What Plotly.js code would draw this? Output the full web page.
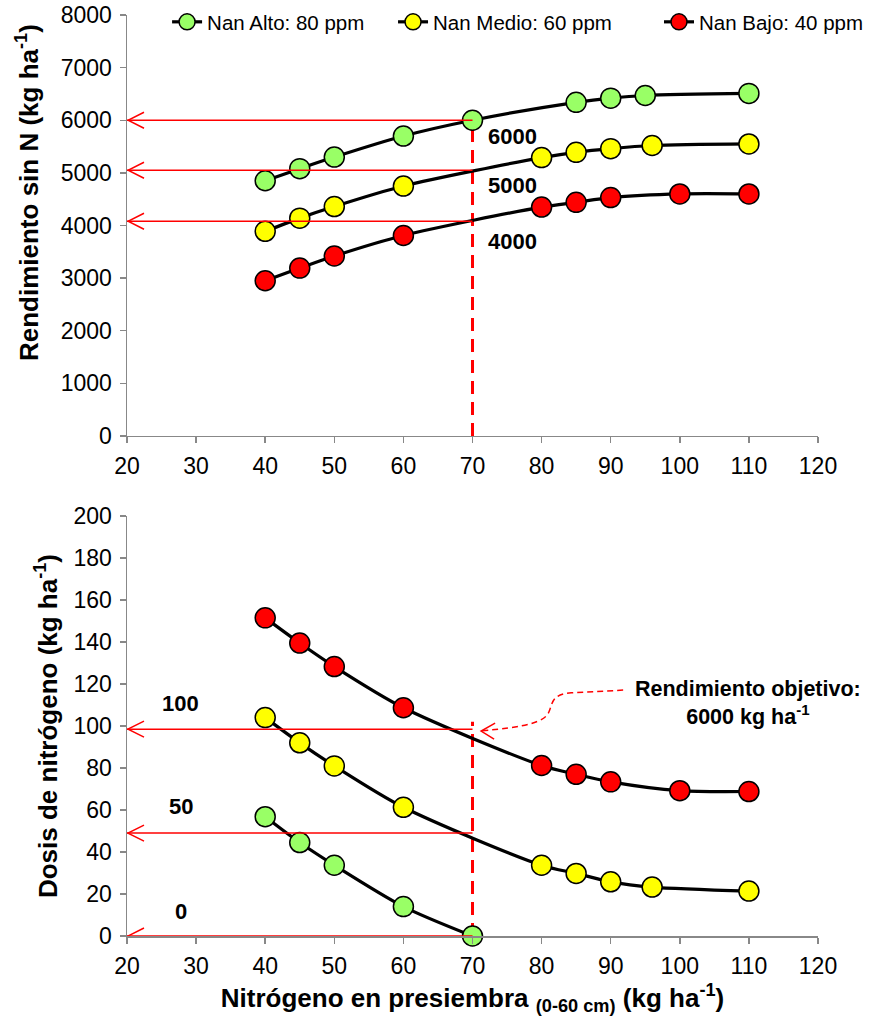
<!DOCTYPE html>
<html>
<head>
<meta charset="utf-8">
<script src="https://cdn.plot.ly/plotly-3.0.1.min.js"></script>
<style>html,body{margin:0;padding:0;background:#fff;}#chart{width:870px;height:1022px;}</style>
</head>
<body>
<div id="chart"></div>
<script>
// ---- Data ----
const seriesNames = ['Nan Alto: 80 ppm', 'Nan Medio: 60 ppm', 'Nan Bajo: 40 ppm'];
const seriesColors = ['#99FF66', '#FFFF00', '#FF0000'];

const xAlto  = [40, 45, 50, 60, 70, 85, 90, 95, 110];
const rendAlto = [4850, 5080, 5300, 5700, 6000, 6340, 6420, 6470, 6510];
const xMedio = [40, 45, 50, 60, 80, 85, 90, 96, 110];
const rendMedio = [3890, 4140, 4360, 4750, 5290, 5390, 5460, 5520, 5550];
const xBajo  = [40, 45, 50, 60, 80, 85, 90, 100, 110];
const rendBajo = [2950, 3190, 3420, 3810, 4350, 4440, 4530, 4600, 4600];

const xDosisAlto = [40, 45, 50, 60, 70];
const dosisAlto  = [56.8, 44.5, 33.7, 14, 0];
const dosisMedio = [104, 92, 81, 61.3, 33.7, 29.8, 25.8, 23.3, 21.4];
const dosisBajo  = [151.5, 139.5, 128.3, 108.7, 81.2, 77, 73.4, 69.2, 68.8];

const nTarget = 70;
const rendRefs = [6000, 5050, 4080];
const rendRefLabels = ['6000', '5000', '4000'];
const dosisRefs = [98.5, 49, 0];
const dosisRefLabels = ['100', '50', '0'];
const xTicks = [20, 30, 40, 50, 60, 70, 80, 90, 100, 110, 120];

// ---- Traces ----
const legendIds = ['legend', 'legend2', 'legend3'];
function tr(x, y, i, yaxis, showlegend) {
  return {
    x: x, y: y, type: 'scatter', mode: 'lines+markers', name: seriesNames[i],
    xaxis: yaxis === 'y' ? 'x' : 'x2', yaxis: yaxis, showlegend: showlegend,
    legend: legendIds[i],
    cliponaxis: false,
    line: {color: '#000', width: 3.2, shape: 'spline', smoothing: 0.8},
    marker: {color: seriesColors[i], size: 20, line: {color: '#000', width: 1.5}}
  };
}
const data = [
  tr(xAlto, rendAlto, 0, 'y', true),
  tr(xMedio, rendMedio, 1, 'y', true),
  tr(xBajo, rendBajo, 2, 'y', true),
  tr(xBajo, dosisBajo, 2, 'y2', false),
  tr(xMedio, dosisMedio, 1, 'y2', false),
  tr(xDosisAlto, dosisAlto, 0, 'y2', false)
];

// ---- Shapes ----
const RED = '#FF0000';
const shapes = [];
function arrows(xr, yr, vals) {
  vals.forEach(v => {
    shapes.push({type: 'line', xref: xr, yref: yr, x0: nTarget, x1: 20, y0: v, y1: v,
      line: {color: RED, width: 1.5}, layer: 'above'});
    shapes.push({type: 'path', xref: xr, yref: yr, xsizemode: 'pixel', ysizemode: 'pixel',
      xanchor: 20, yanchor: v, path: 'M17,8 L1,0 L17,-8',
      line: {color: RED, width: 1.5}, layer: 'above'});
  });
}
shapes.push({type: 'line', xref: 'x', yref: 'y', x0: nTarget, x1: nTarget, y0: 0, y1: rendRefs[0],
  line: {color: RED, width: 3, dash: '13px,8px'}, layer: 'below'});
shapes.push({type: 'line', xref: 'x2', yref: 'y2', x0: nTarget, x1: nTarget, y0: 0, y1: 102,
  line: {color: RED, width: 3, dash: '13px,8px'}, layer: 'below'});
arrows('x', 'y', rendRefs);
arrows('x2', 'y2', dosisRefs);
const tipX = nTarget + 1.1, tipY = dosisRefs[0] - 0.9;
shapes.push({type: 'path', xref: 'x2', yref: 'y2',
  path: 'M 91.8,117.1 L 84.3,115.8 C 81.5,115.3 81.6,111 81.1,107 C 80.5,101.5 77.5,99.6 ' + tipX + ',' + tipY,
  line: {color: RED, width: 1.5, dash: '6px,4px'}});
shapes.push({type: 'path', xref: 'x2', yref: 'y2', xsizemode: 'pixel', ysizemode: 'pixel',
  xanchor: tipX, yanchor: tipY, path: 'M15,8 L1,0 L14,-8',
  line: {color: RED, width: 1.5}});

// ---- Annotations ----
const annotations = [];
const boldFont = {family: 'Liberation Sans, Arial, sans-serif', size: 22, color: '#000'};
const rendLabelY = [5690, 4760, 3700];
rendRefLabels.forEach((t, i) => {
  annotations.push({x: 75.8, y: rendLabelY[i], xref: 'x', yref: 'y', text: '<b>' + t + '</b>', showarrow: false, font: boldFont});
});
const dosisLabelY = [110.5, 61.6, 11.6];
dosisRefLabels.forEach((t, i) => {
  annotations.push({x: 27.8, y: dosisLabelY[i], xref: 'x2', yref: 'y2', text: '<b>' + t + '</b>', showarrow: false, font: boldFont});
});
annotations.push({x: 109.9, y: 111, xref: 'x2', yref: 'y2', showarrow: false, align: 'center',
  text: '<b>Rendimiento objetivo:<br>6000 kg ha<sup>-1</sup></b>',
  font: {family: 'Liberation Sans, Arial, sans-serif', size: 21.5, color: '#000'}});
const titleFont = {family: 'Liberation Sans, Arial, sans-serif', size: 26, color: '#000'};
annotations.push({xref: 'paper', yref: 'paper', x: -0.1447, y: 0.8067, xanchor: 'center', yanchor: 'middle',
  textangle: -90, showarrow: false, text: '<b>Rendimiento sin N (kg ha<sup>-1</sup>)</b>', font: titleFont});

// ---- Layout ----
const axisCommon = {
  showline: true, linecolor: '#888', linewidth: 1.5, ticks: 'outside', ticklen: 6, tickcolor: '#888',
  tickwidth: 1.5, showgrid: false, zeroline: false, ticklabelstandoff: 3,
  tickfont: {family: 'Liberation Sans, Arial, sans-serif', size: 23, color: '#000'}
};
const legendFont = {family: 'Liberation Sans, Arial, sans-serif', size: 20.5, color: '#000'};
function leg(x, anchor) {
  return {orientation: 'h', x: x, y: 0.9924, xanchor: anchor || 'left', yanchor: 'middle',
    bgcolor: 'rgba(0,0,0,0)', font: legendFont, itemwidth: 30};
}
const layout = {
  width: 870, height: 1022,
  margin: {l: 127, r: 52, t: 15, b: 86, autoexpand: false},
  paper_bgcolor: '#fff', plot_bgcolor: '#fff',
  showlegend: true,
  legend: leg(0.058),
  legend2: leg(0.385),
  legend3: leg(1.0738, 'right'),
  xaxis: Object.assign({}, axisCommon, {range: [20, 120], tickvals: xTicks, anchor: 'y'}),
  yaxis: Object.assign({}, axisCommon, {range: [0, 8000], dtick: 1000, domain: [0.5429, 1], anchor: 'x'}),
  xaxis2: Object.assign({}, axisCommon, {range: [20, 120], tickvals: xTicks, anchor: 'y2',
    title: {text: '<b>Nitrógeno en presiembra <sub>(0-60 cm)</sub> (kg ha<sup>-1</sup>)</b>', font: titleFont, standoff: 10}}),
  yaxis2: Object.assign({}, axisCommon, {range: [0, 200], dtick: 20, domain: [0, 0.456], anchor: 'x2',
    title: {text: '<b>Dosis de nitrógeno (kg ha<sup>-1</sup>)</b>', font: titleFont, standoff: 8}}),
  shapes: shapes,
  annotations: annotations
};

Plotly.newPlot('chart', data, layout, {displayModeBar: false, staticPlot: true});
</script>
</body>
</html>
